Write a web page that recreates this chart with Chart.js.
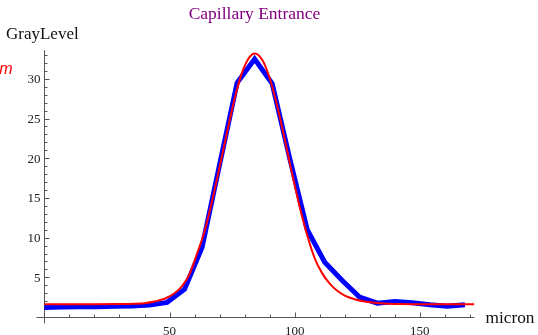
<!DOCTYPE html>
<html><head><meta charset="utf-8">
<script src="https://cdn.jsdelivr.net/npm/chart.js@4/dist/chart.umd.min.js"></script>
<style>html,body{margin:0;padding:0;background:#fff;overflow:hidden}#wrap{width:538px;height:335px;position:relative}</style>
</head><body><div id="wrap"><canvas id="c" width="538" height="335"></canvas></div>
<script>
const chartTitle = "Capillary Entrance";
const xAxisTitle = "micron";
const yAxisTitle = "GrayLevel";
const sideNote = "m";

const measuredX = [0, 7, 14, 21, 28, 35, 42, 49, 56, 63, 70, 77, 84, 91, 98, 105, 112, 119, 126, 133, 140, 147, 154, 161, 168];
const measuredY = [1.2, 1.25, 1.3, 1.3, 1.35, 1.4, 1.5, 1.85, 3.5, 8.8, 19.2, 29.5, 32.5, 29.4, 20.0, 11.0, 6.9, 4.6, 2.5, 1.75, 1.95, 1.8, 1.55, 1.35, 1.55];

const fitX = [0, 10, 20, 30, 36, 40, 44, 48, 52, 55, 58, 61, 64, 67, 70, 73, 76, 79, 82, 84.1, 87, 90, 93, 96, 99, 102, 105, 108, 111, 114, 117, 120, 124, 128, 134, 142, 155, 171.8];
const fitY = [1.62, 1.62, 1.62, 1.63, 1.67, 1.75, 1.95, 2.3, 3.0, 3.9, 5.4, 8.0, 10.8, 14.6, 18.9, 23.3, 27.5, 30.8, 32.75, 33.2, 32.4, 30.1, 26.6, 22.4, 18.0, 13.85, 10.3, 7.4, 5.5, 4.2, 3.3, 2.7, 2.25, 1.95, 1.75, 1.65, 1.62, 1.62];

const xMajorTicks = [50, 100, 150];
const xMinorTicks = [10, 20, 30, 40, 60, 70, 80, 90, 110, 120, 130, 140, 160, 170];
const yMajorTicks = [5, 10, 15, 20, 25, 30];
const yMinorTicks = [1, 2, 3, 4, 6, 7, 8, 9, 11, 12, 13, 14, 16, 17, 18, 19, 21, 22, 23, 24, 26, 27, 28, 29, 31, 32, 33];

const toPts = (xs, ys) => xs.map((x, i) => ({x: x, y: ys[i]}));

const axesPlugin = {
  id: 'mmaAxes',
  beforeDatasetsDraw(chart) {
    const ctx = chart.ctx, xs = chart.scales.x, ys = chart.scales.y, ca = chart.chartArea;
    const x0 = Math.round(xs.getPixelForValue(0)) + 0.5;
    const y0 = Math.round(ys.getPixelForValue(0)) + 0.5;
    ctx.save();
    ctx.strokeStyle = '#555';
    ctx.lineWidth = 1;
    ctx.beginPath();
    ctx.moveTo(ca.left, y0); ctx.lineTo(ca.right, y0);
    ctx.moveTo(x0, ca.top); ctx.lineTo(x0, ca.bottom);
    xMajorTicks.forEach(v => { const p = Math.round(xs.getPixelForValue(v)) + 0.5; ctx.moveTo(p, y0); ctx.lineTo(p, y0 - 5); });
    xMinorTicks.forEach(v => { const p = Math.round(xs.getPixelForValue(v)) + 0.5; ctx.moveTo(p, y0); ctx.lineTo(p, y0 - 3); });
    yMajorTicks.forEach(v => { const p = Math.round(ys.getPixelForValue(v)) + 0.5; ctx.moveTo(x0, p); ctx.lineTo(x0 + 5, p); });
    yMinorTicks.forEach(v => { const p = Math.round(ys.getPixelForValue(v)) + 0.5; ctx.moveTo(x0, p); ctx.lineTo(x0 + 3, p); });
    ctx.stroke();

    ctx.fillStyle = '#222';
    ctx.font = '13px "Liberation Serif", "Times New Roman", serif';
    ctx.textBaseline = 'alphabetic';
    ctx.textAlign = 'center';
    xMajorTicks.forEach(v => ctx.fillText(String(v), xs.getPixelForValue(v), y0 + 17));
    ctx.textAlign = 'right';
    yMajorTicks.forEach(v => ctx.fillText(String(v), x0 - 4, ys.getPixelForValue(v) + 4.4));

    ctx.fillStyle = '#111';
    ctx.font = '17px "Liberation Serif", "Times New Roman", serif';
    ctx.textAlign = 'left';
    ctx.fillText(yAxisTitle, 6, 39);
    ctx.font = '17.3px "Liberation Serif", "Times New Roman", serif';
    ctx.fillText(xAxisTitle, 485.5, 322.5);

    ctx.fillStyle = '#800080';
    ctx.font = '17.5px "Liberation Serif", "Times New Roman", serif';
    ctx.textAlign = 'center';
    ctx.fillText(chartTitle, 254.5, 19);

    ctx.fillStyle = '#ff0000';
    ctx.font = 'italic 16px "Liberation Sans", Arial, sans-serif';
    ctx.textAlign = 'right';
    ctx.fillText(sideNote, 12.5, 74);
    ctx.restore();
  }
};

new Chart(document.getElementById('c'), {
  type: 'line',
  data: {
    datasets: [
      {
        label: 'fit',
        data: toPts(fitX, fitY),
        borderColor: '#ff0000',
        borderWidth: 2,
        pointRadius: 0,
        fill: false,
        cubicInterpolationMode: 'monotone'
      },
      {
        label: 'measured',
        data: toPts(measuredX, measuredY),
        borderColor: '#0000ff',
        borderWidth: 5,
        pointRadius: 0,
        fill: false,
        tension: 0,
        borderJoinStyle: 'miter'
      }
    ]
  },
  options: {
    responsive: false,
    animation: false,
    devicePixelRatio: 1,
    layout: { padding: { left: 36.4, right: 63.6, top: 50.2, bottom: 11.6 } },
    scales: {
      x: { type: 'linear', min: -3.2, max: 171.8, display: false },
      y: { type: 'linear', min: -0.8, max: 33.6, display: false }
    },
    plugins: { legend: { display: false }, tooltip: { enabled: false }, title: { display: false } }
  },
  plugins: [axesPlugin]
});
</script>
</body></html>
